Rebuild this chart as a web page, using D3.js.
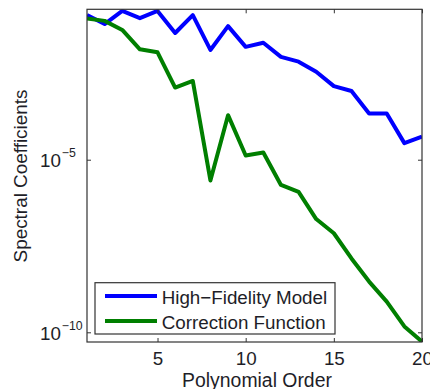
<!DOCTYPE html>
<html>
<head>
<meta charset="utf-8">
<script src="https://cdn.jsdelivr.net/npm/d3@7"></script>
<style>
  html, body { margin: 0; padding: 0; background: #fff; }
  svg { display: block; }
  text { font-family: "Liberation Sans", Arial, sans-serif; fill: #1e1e28; }
</style>
</head>
<body>
<svg id="chart" width="430" height="389"></svg>
<script>
// Polynomial order (x) for each spectral coefficient
const orders = [1, 2, 3, 4, 5, 6, 7, 8, 9, 10, 11, 12, 13, 14, 15, 16, 17, 18, 19, 20];

// Spectral coefficient magnitudes
const highFidelity = [1.55e-1, 8.5e-2, 2.04e-1, 1.26e-1, 2.04e-1, 4.68e-2, 1.55e-1, 1.51e-2, 7.41e-2, 1.86e-2,
                      2.45e-2, 9.55e-3, 6.92e-3, 3.55e-3, 1.35e-3, 9.77e-4, 2.19e-4, 2.19e-4, 3.02e-5, 4.68e-5];
const correction   = [1.23e-1, 1.05e-1, 5.75e-2, 1.58e-2, 1.29e-2, 1.23e-3, 1.91e-3, 2.51e-6, 1.95e-4, 1.32e-5,
                      1.62e-5, 1.86e-6, 1.17e-6, 1.91e-7, 7.41e-8, 1.38e-8, 2.95e-9, 7.76e-10, 1.48e-10, 5.37e-11];

const seriesNames = ["High\u2212Fidelity Model", "Correction Function"];
const seriesColors = ["#0000ff", "#007f00"];

const xTicks = [5, 10, 15, 20];
const yTicks = [1e-5, 1e-10];
const yTickExponents = ["\u22125", "\u221210"];
const xDomain = [1, 20];
const yDomain = [5.24e-11, 0.2275];

const xLabel = "Polynomial Order";
const yLabel = "Spectral Coefficients";

// Layout
const plotLeft = 87, plotRight = 422, plotTop = 9.3, plotBottom = 342;
const fontSize = 18.8;

const svg = d3.select("#chart");

const x = d3.scaleLinear().domain(xDomain).range([plotLeft, plotRight]);
const y = d3.scaleLog().domain(yDomain).range([plotBottom, plotTop]);

// Clip region for the data lines
svg.append("defs").append("clipPath").attr("id", "plot-clip")
  .append("rect")
  .attr("x", plotLeft).attr("y", plotTop)
  .attr("width", plotRight - plotLeft).attr("height", plotBottom - plotTop);

// Data lines
const series = [highFidelity, correction];
const line = d3.line()
  .x((d, i) => x(orders[i]))
  .y(d => y(d));

svg.append("g").attr("clip-path", "url(#plot-clip)")
  .selectAll("path")
  .data(series)
  .join("path")
  .attr("d", d => line(d))
  .attr("fill", "none")
  .attr("stroke", (d, i) => seriesColors[i])
  .attr("stroke-width", 4)
  .attr("stroke-linejoin", "round")
  .attr("stroke-linecap", "butt");

// Axes with inward ticks
const axisColor = "#333";
const styleAxis = g => {
  g.select(".domain").remove();
  g.selectAll(".tick line").attr("stroke", axisColor).attr("stroke-width", 1);
};

svg.append("g")
  .attr("transform", `translate(0,${plotBottom})`)
  .call(d3.axisBottom(x).tickValues(xTicks).tickSizeInner(-4).tickSizeOuter(0).tickPadding(9.7))
  .call(styleAxis)
  .call(g => g.selectAll("text")
    .attr("font-size", fontSize)
    .attr("font-family", "'Liberation Sans', Arial, sans-serif")
    .attr("fill", "#1e1e28"));

svg.append("g")
  .attr("transform", `translate(0,${plotTop})`)
  .call(d3.axisTop(x).tickValues(xTicks).tickSizeInner(-4).tickSizeOuter(0).tickFormat(() => ""))
  .call(styleAxis);

const yLeft = svg.append("g")
  .attr("transform", `translate(${plotLeft},0)`)
  .call(d3.axisLeft(y).tickValues(yTicks).tickSizeInner(-4).tickSizeOuter(0).tickFormat(() => ""))
  .call(styleAxis);

// Power-of-ten tick labels with superscript exponents
yLeft.selectAll(".tick text").each(function(d, i) {
  const t = d3.select(this)
    .attr("text-anchor", "start")
    .attr("x", 40 - plotLeft)
    .attr("dy", null)
    .attr("y", 6.8)
    .attr("fill", "#1e1e28")
    .attr("font-family", "'Liberation Sans', Arial, sans-serif")
    .text(null);
  t.append("tspan").attr("font-size", fontSize).text("10");
  t.append("tspan").attr("font-size", 12.3).attr("dx", 0.8).attr("dy", -10)
    .text(yTickExponents[i]);
});

svg.append("g")
  .attr("transform", `translate(${plotRight},0)`)
  .call(d3.axisRight(y).tickValues(yTicks).tickSizeInner(-4).tickSizeOuter(0).tickFormat(() => ""))
  .call(styleAxis);

// Plot frame
svg.append("rect")
  .attr("x", plotLeft).attr("y", plotTop)
  .attr("width", plotRight - plotLeft).attr("height", plotBottom - plotTop)
  .attr("fill", "none")
  .attr("stroke", axisColor)
  .attr("stroke-width", 1.2);

// Axis titles
svg.append("text")
  .attr("x", 257).attr("y", 387.3)
  .attr("text-anchor", "middle")
  .attr("font-size", 19.4)
  .text(xLabel);

svg.append("text")
  .attr("transform", "translate(26.8,176) rotate(-90)")
  .attr("text-anchor", "middle")
  .attr("font-size", 18.9)
  .text(yLabel);

// Legend
const legend = svg.append("g");
legend.append("rect")
  .attr("x", 95).attr("y", 282.7)
  .attr("width", 240).attr("height", 51.3)
  .attr("fill", "#fff")
  .attr("stroke", axisColor)
  .attr("stroke-width", 1.2);

const legendRows = [296, 321];
seriesNames.forEach((name, i) => {
  legend.append("line")
    .attr("x1", 105).attr("x2", 157)
    .attr("y1", legendRows[i]).attr("y2", legendRows[i])
    .attr("stroke", seriesColors[i])
    .attr("stroke-width", 4);
  legend.append("text")
    .attr("x", 161.7).attr("y", legendRows[i] + 7.5)
    .attr("font-size", fontSize)
    .text(name);
});
</script>
</body>
</html>
